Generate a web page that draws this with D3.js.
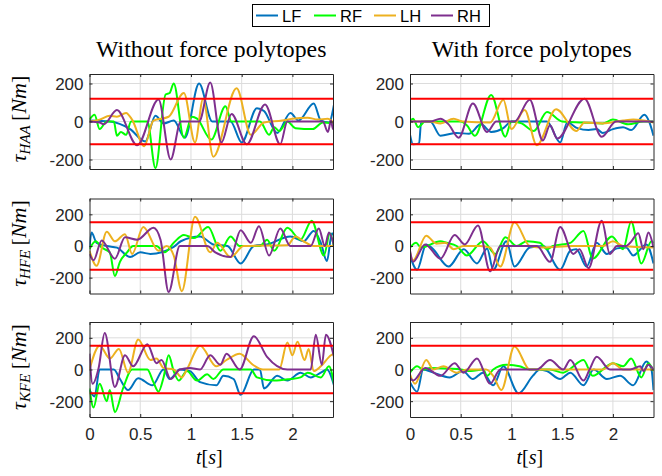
<!DOCTYPE html>
<html><head><meta charset="utf-8">
<script src="https://cdn.jsdelivr.net/npm/d3@7"></script>
<style>body{margin:0;background:#fff}svg{display:block}</style>
</head><body>
<svg id="c" width="662" height="476"></svg>
<script>
// ---------- categories / labels ----------
const legs = ["LF","RF","LH","RH"];
const legColors = ["#0072BD","#00FF00","#EDB120","#7E2F8E"];
const joints = ["HAA","HFE","KFE"];
const conditions = ["Without force polytopes","With force polytopes"];
const yDomains = [[-250,250],[-300,300],[-300,300]];
const torqueLimits = [120,150,150];
const xTicks = [0,0.5,1,1.5,2];
const yTicks = [-200,0,200];
const yTickLabels = ["-200","0","200"];
const tMax = 2.4;

// ---------- series: [t (s), torque (Nm)] ----------
// HAA, without polytopes
const HAA_wo_LF = [[0,5],[0.2,0],[0.4,-40],[0.55,-105],[0.65,30],[0.73,-10],[0.83,5],[0.94,-85],[1.08,200],[1.21,0],[1.39,0],[1.5,-110],[1.65,70],[1.72,55],[1.85,-60],[1.98,45],[2.06,5],[2.21,95],[2.28,5],[2.36,-5],[2.41,90]];
const HAA_wo_RF = [[0,10],[0.05,35],[0.1,-40],[0.17,0],[0.24,0],[0.27,-75],[0.31,-55],[0.36,-70],[0.41,0],[0.57,0],[0.65,-245],[0.75,142],[0.79,150],[0.83,200],[0.93,-85],[1.01,25],[1.06,15],[1.2,-95],[1.34,80],[1.4,0],[1.68,0],[1.77,-70],[1.82,-30],[1.87,-50],[1.95,0],[2.03,-35],[2.2,-40],[2.3,-5],[2.41,-10]];
const HAA_wo_LH = [[0,0],[0.1,10],[0.2,30],[0.27,25],[0.36,45],[0.42,10],[0.54,-130],[0.63,5],[0.78,25],[0.93,150],[1.04,-110],[1.12,120],[1.22,-185],[1.45,175],[1.59,-70],[1.72,-5],[1.9,5],[2.0,15],[2.15,20],[2.25,10],[2.35,15],[2.41,-10]];
const HAA_wo_RH = [[0,0],[0.1,-5],[0.14,-15],[0.27,60],[0.47,-125],[0.68,116],[0.8,-200],[0.9,0],[1.08,0],[1.19,205],[1.3,-110],[1.4,40],[1.55,-120],[1.73,90],[1.88,-120],[1.95,0],[2.3,0],[2.35,-55],[2.38,5],[2.4,-40],[2.41,-20]];
// HAA, with polytopes
const HAA_w_LF = [[0,-70],[0.03,-120],[0.09,-115],[0.11,0],[0.2,0],[0.3,-75],[0.46,-60],[0.58,-65],[0.7,-15],[0.8,-55],[0.92,-35],[1.0,0],[1.35,0],[1.48,-110],[1.55,-5],[1.65,-35],[1.76,-45],[1.84,-40],[1.9,-60],[2.0,-40],[2.1,-30],[2.18,-45],[2.31,35],[2.36,-5],[2.4,-75]];
const HAA_w_RF = [[0,0],[0.03,15],[0.08,-30],[0.15,0],[0.5,0],[0.56,-20],[0.64,-75],[0.8,140],[0.94,-80],[1.0,0],[1.1,-10],[1.22,-50],[1.35,50],[1.5,0],[1.7,-5],[1.9,-10],[2.0,10],[2.15,-15],[2.3,0],[2.4,0]];
const HAA_w_LH = [[0,0],[0.2,0],[0.3,-10],[0.43,15],[0.52,0],[0.79,-5],[0.92,115],[1.0,-40],[1.13,60],[1.25,-125],[1.44,65],[1.64,-50],[1.72,-5],[1.9,-10],[2.1,5],[2.2,10],[2.4,-5]];
const HAA_w_RH = [[0,0],[0.2,0],[0.3,15],[0.38,-15],[0.48,-85],[0.62,95],[0.76,-55],[0.85,0],[1.03,0],[1.18,115],[1.31,-100],[1.38,-20],[1.45,-90],[1.72,120],[1.89,-80],[2.03,0],[2.4,0]];
// HFE, without polytopes
const HFE_wo_LF = [[0,-10],[0.02,85],[0.07,20],[0.17,0],[0.27,-10],[0.4,-70],[0.5,-40],[0.6,-50],[0.83,-5],[0.9,30],[1.09,60],[1.22,10],[1.36,0],[1.49,-110],[1.62,0],[1.75,10],[1.98,60],[2.11,30],[2.21,95],[2.28,20],[2.34,-95],[2.39,80],[2.41,60]];
const HFE_wo_RF = [[0,-20],[0.06,30],[0.12,-10],[0.2,-40],[0.25,-190],[0.3,-100],[0.37,-40],[0.43,0],[0.66,0],[0.74,-40],[0.83,20],[0.93,70],[1.03,50],[1.17,120],[1.29,-30],[1.39,60],[1.48,0],[1.68,0],[1.75,40],[1.82,-30],[1.95,115],[2.08,40],[2.19,160],[2.31,-60],[2.37,80],[2.41,-10]];
const HFE_wo_LH = [[0,-30],[0.07,-125],[0.17,90],[0.25,30],[0.35,75],[0.42,-50],[0.53,120],[0.68,-30],[0.76,0],[0.83,-60],[0.91,-285],[1.04,185],[1.19,-40],[1.26,20],[1.39,-70],[1.52,0],[1.95,5],[2.03,60],[2.11,30],[2.21,0],[2.41,0]];
const HFE_wo_RH = [[0,-50],[0.04,-90],[0.12,35],[0.25,-80],[0.35,55],[0.47,40],[0.63,115],[0.7,40],[0.78,-290],[0.89,0],[1.16,0],[1.24,-40],[1.39,-70],[1.49,100],[1.59,20],[1.67,125],[1.77,-60],[1.88,110],[1.98,0],[2.18,0],[2.26,110],[2.32,0],[2.36,85],[2.41,0]];
// HFE, with polytopes
const HFE_w_LF = [[0,-60],[0.07,-150],[0.16,10],[0.22,-15],[0.38,-130],[0.53,-20],[0.66,-110],[0.76,-15],[0.82,-150],[0.95,30],[1.03,-130],[1.18,-10],[1.31,0],[1.48,-150],[1.58,-30],[1.64,-20],[1.74,-130],[1.84,20],[1.94,-50],[2.04,-15],[2.13,-10],[2.2,-60],[2.33,10],[2.4,-110]];
const HFE_w_RF = [[0,-10],[0.06,20],[0.11,-10],[0.3,30],[0.36,20],[0.46,0],[0.56,-60],[0.72,30],[0.84,-50],[0.94,55],[1.05,0],[1.15,30],[1.28,20],[1.35,-20],[1.41,0],[1.58,20],[1.71,95],[1.8,-80],[1.99,60],[2.1,-20],[2.18,155],[2.28,-110],[2.38,30],[2.4,20]];
const HFE_w_LH = [[0,-40],[0.03,-90],[0.16,65],[0.26,15],[0.35,20],[0.43,-20],[0.53,0],[0.69,0],[0.79,-10],[0.89,-130],[1.03,150],[1.18,0],[1.31,-10],[1.6,0],[1.9,0],[2.0,30],[2.1,0],[2.4,-10]];
const HFE_w_RH = [[0,-30],[0.03,-100],[0.15,10],[0.3,-80],[0.44,70],[0.54,10],[0.67,130],[0.79,-160],[0.89,0],[1.25,0],[1.38,-100],[1.48,120],[1.61,-50],[1.67,-20],[1.76,-140],[1.89,160],[1.97,-50],[2.04,0],[2.13,0],[2.17,20],[2.25,80],[2.3,-20],[2.35,85],[2.4,-10]];
// KFE, without polytopes
const KFE_wo_LF = [[0,-130],[0.05,-170],[0.1,0],[0.24,0],[0.3,-60],[0.38,-130],[0.48,-55],[0.62,-100],[0.73,0],[0.79,-60],[0.89,0],[0.99,-10],[1.09,-80],[1.25,-100],[1.32,-40],[1.42,-60],[1.49,-160],[1.62,0],[1.68,0],[1.72,-120],[1.85,-40],[1.95,-70],[2.08,-20],[2.18,-50],[2.28,-20],[2.34,0],[2.41,-100]];
const KFE_wo_RF = [[0,-120],[0.04,-240],[0.1,-90],[0.17,-200],[0.2,-130],[0.25,-270],[0.33,-120],[0.42,0],[0.57,0],[0.63,-80],[0.68,-140],[0.73,-50],[0.78,90],[0.83,-10],[0.88,-70],[0.96,-10],[1.06,-70],[1.16,-30],[1.22,-60],[1.32,0],[1.59,0],[1.65,-50],[1.82,-70],[1.98,-60],[2.08,-50],[2.15,-20],[2.28,-50],[2.36,20],[2.41,-90]];
const KFE_wo_LH = [[0,0],[0.1,150],[0.2,70],[0.29,130],[0.38,-20],[0.48,190],[0.6,60],[0.66,70],[0.73,10],[0.83,0],[0.91,-50],[0.96,0],[1.09,150],[1.25,20],[1.35,60],[1.48,100],[1.61,30],[1.71,0],[1.87,0],[1.95,170],[2.0,90],[2.05,175],[2.12,60],[2.16,130],[2.21,-10],[2.28,20],[2.38,90],[2.41,100]];
const KFE_wo_RH = [[0,100],[0.03,-90],[0.09,10],[0.15,230],[0.25,-110],[0.35,90],[0.43,20],[0.57,160],[0.66,40],[0.71,60],[0.8,-60],[0.89,0],[0.99,10],[1.09,0],[1.19,90],[1.29,30],[1.35,100],[1.48,0],[1.62,210],[1.75,80],[1.95,0],[2.18,0],[2.23,220],[2.29,30],[2.33,220],[2.41,80]];
// KFE, with polytopes
const KFE_w_LF = [[0,-80],[0.07,-140],[0.13,0],[0.23,-20],[0.39,-50],[0.52,-10],[0.62,-60],[0.72,-20],[0.82,-100],[0.92,20],[1.07,-150],[1.21,-40],[1.28,0],[1.35,-10],[1.48,-60],[1.58,-20],[1.71,-100],[1.81,0],[1.94,-60],[2.07,-40],[2.2,-100],[2.33,50],[2.38,0],[2.4,-130]];
const KFE_w_RF = [[0,-20],[0.07,20],[0.13,0],[0.2,10],[0.4,5],[0.5,0],[0.6,-10],[0.72,0],[0.76,-40],[0.82,0],[0.95,30],[1.08,20],[1.18,0],[1.38,0],[1.51,-20],[1.57,0],[1.71,60],[1.8,-40],[2.0,40],[2.1,20],[2.18,70],[2.28,-50],[2.35,40],[2.4,-10]];
const KFE_w_LH = [[0,-30],[0.05,-90],[0.16,60],[0.23,0],[0.33,20],[0.46,-20],[0.56,0],[0.75,0],[0.82,-40],[0.9,-130],[1.03,145],[1.18,0],[1.9,0],[2.0,40],[2.1,0],[2.4,0]];
const KFE_w_RH = [[0,-50],[0.03,-70],[0.15,10],[0.3,-40],[0.44,40],[0.53,-20],[0.66,70],[0.79,-90],[0.89,0],[1.25,0],[1.38,60],[1.51,0],[1.58,60],[1.71,-70],[1.77,0],[1.84,80],[1.97,0],[2.17,0],[2.27,20],[2.3,-10],[2.35,30],[2.4,0]];

const panelSeries = [
  [[HAA_wo_LF,HAA_wo_RF,HAA_wo_LH,HAA_wo_RH],[HAA_w_LF,HAA_w_RF,HAA_w_LH,HAA_w_RH]],
  [[HFE_wo_LF,HFE_wo_RF,HFE_wo_LH,HFE_wo_RH],[HFE_w_LF,HFE_w_RF,HFE_w_LH,HFE_w_RH]],
  [[KFE_wo_LF,KFE_wo_RF,KFE_wo_LH,KFE_wo_RH],[KFE_w_LF,KFE_w_RF,KFE_w_LH,KFE_w_RH]]
];

// ---------- layout ----------
const colLeft = [89.5, 410];
const panelW = 243.5;
const rowTop = [74, 198.5, 322];
const panelH = 95;
const axisColor = "#262626";
const sansFont = "'Liberation Sans', Arial, sans-serif";
const serifFont = "'Liberation Serif', 'Times New Roman', serif";
const tickFmt = d => yTickLabels[yTicks.indexOf(d)];

const svg = d3.select("#c");
const defs = svg.append("defs");

joints.forEach((jn, r) => {
  conditions.forEach((cn, c) => {
    const x0 = colLeft[c], y0 = rowTop[r];
    const x = d3.scaleLinear().domain([0, tMax]).range([x0, x0 + panelW]);
    const y = d3.scaleLinear().domain(yDomains[r]).range([y0 + panelH, y0]);
    const g = svg.append("g");
    const clipId = `clip-${r}-${c}`;
    defs.append("clipPath").attr("id", clipId)
      .append("rect").attr("x", x0).attr("y", y0).attr("width", panelW).attr("height", panelH);

    g.append("rect").attr("x", x0).attr("y", y0).attr("width", panelW).attr("height", panelH).attr("fill", "#fff");
    // grid
    g.selectAll(".vg").data(xTicks.filter(t => t > 0)).enter().append("line")
      .attr("x1", d => x(d)).attr("x2", d => x(d)).attr("y1", y0).attr("y2", y0 + panelH)
      .attr("stroke", "#dcdcdc").attr("stroke-width", 1);
    g.selectAll(".hg").data(yTicks).enter().append("line")
      .attr("x1", x0).attr("x2", x0 + panelW).attr("y1", d => y(d)).attr("y2", d => y(d))
      .attr("stroke", "#dcdcdc").attr("stroke-width", 1);

    const plot = g.append("g").attr("clip-path", `url(#${clipId})`);
    const line = d3.line().x(d => x(d[0])).y(d => y(d[1])).curve(d3.curveMonotoneX);
    panelSeries[r][c].forEach((s, i) => {
      plot.append("path").datum(s).attr("d", line)
        .attr("fill", "none").attr("stroke", legColors[i]).attr("stroke-width", 2)
        .attr("stroke-linejoin", "round");
    });
    [torqueLimits[r], -torqueLimits[r]].forEach(v => {
      plot.append("line").attr("x1", x0).attr("x2", x0 + panelW)
        .attr("y1", y(v)).attr("y2", y(v)).attr("stroke", "#ff0000").attr("stroke-width", 2);
    });

    // axes with inward ticks (box)
    const ax = g.append("g").attr("color", axisColor);
    const bottom = ax.append("g").attr("transform", `translate(0,${y0 + panelH})`)
      .call(d3.axisBottom(x).tickValues(xTicks).tickSizeInner(-3).tickSizeOuter(0)
        .tickFormat(r === 2 ? d3.format("") : () => ""));
    const top = ax.append("g").attr("transform", `translate(0,${y0})`)
      .call(d3.axisTop(x).tickValues(xTicks).tickSizeInner(-3).tickSizeOuter(0).tickFormat(() => ""));
    const left = ax.append("g").attr("transform", `translate(${x0},0)`)
      .call(d3.axisLeft(y).tickValues(yTicks).tickSizeInner(-3).tickSizeOuter(0).tickFormat(tickFmt));
    const right = ax.append("g").attr("transform", `translate(${x0 + panelW},0)`)
      .call(d3.axisRight(y).tickValues(yTicks).tickSizeInner(-3).tickSizeOuter(0).tickFormat(() => ""));
    [bottom, top, left, right].forEach(a => {
      a.select(".domain").attr("stroke-width", 1);
      a.selectAll("text").attr("font-family", sansFont).attr("font-size", 17).attr("fill", axisColor);
    });
    left.selectAll("text").attr("x", -6).attr("dy", "0.35em");
    bottom.selectAll("text").attr("y", 11);

    if (r === 0) {
      svg.append("text").attr("x", x0 + panelW / 2).attr("y", 57)
        .attr("text-anchor", "middle").attr("font-family", serifFont).attr("font-size", 23.8)
        .attr("fill", "#000").text(cn);
    }
    if (r === 2) {
      const xl = svg.append("text").attr("x", x0 + panelW / 2 - 2).attr("y", 464)
        .attr("text-anchor", "middle").attr("font-family", serifFont).attr("font-size", 20).attr("fill", "#000");
      xl.append("tspan").attr("font-style", "italic").text("t");
      xl.append("tspan").text("[");
      xl.append("tspan").attr("font-style", "italic").text("s");
      xl.append("tspan").text("]");
    }
    if (c === 0) {
      const cy = y0 + panelH / 2;
      const yl = svg.append("text").attr("transform", `translate(26,${cy - 2.5}) rotate(-90)`)
        .attr("text-anchor", "middle").attr("font-family", serifFont).attr("font-size", 22).attr("fill", "#000");
      yl.append("tspan").attr("font-style", "italic").text("τ");
      yl.append("tspan").attr("font-style", "italic").attr("font-size", 15).attr("dy", 4).text(jn);
      yl.append("tspan").attr("dy", -4).text("\u2009[");
      yl.append("tspan").attr("font-style", "italic").text("Nm");
      yl.append("tspan").text("]");
    }
  });
});

// ---------- legend ----------
const lg = svg.append("g");
lg.append("rect").attr("x", 252.5).attr("y", 4.5).attr("width", 237).attr("height", 22)
  .attr("fill", "#fff").attr("stroke", "#000").attr("stroke-width", 1);
const legX = [256, 314, 374, 431];
legs.forEach((name, i) => {
  lg.append("line").attr("x1", legX[i]).attr("x2", legX[i] + 22).attr("y1", 15.5).attr("y2", 15.5)
    .attr("stroke", legColors[i]).attr("stroke-width", 2);
  lg.append("text").attr("x", legX[i] + 26).attr("y", 21.5)
    .attr("font-family", sansFont).attr("font-size", 16.5).attr("fill", "#000").text(name);
});
</script>
</body></html>
